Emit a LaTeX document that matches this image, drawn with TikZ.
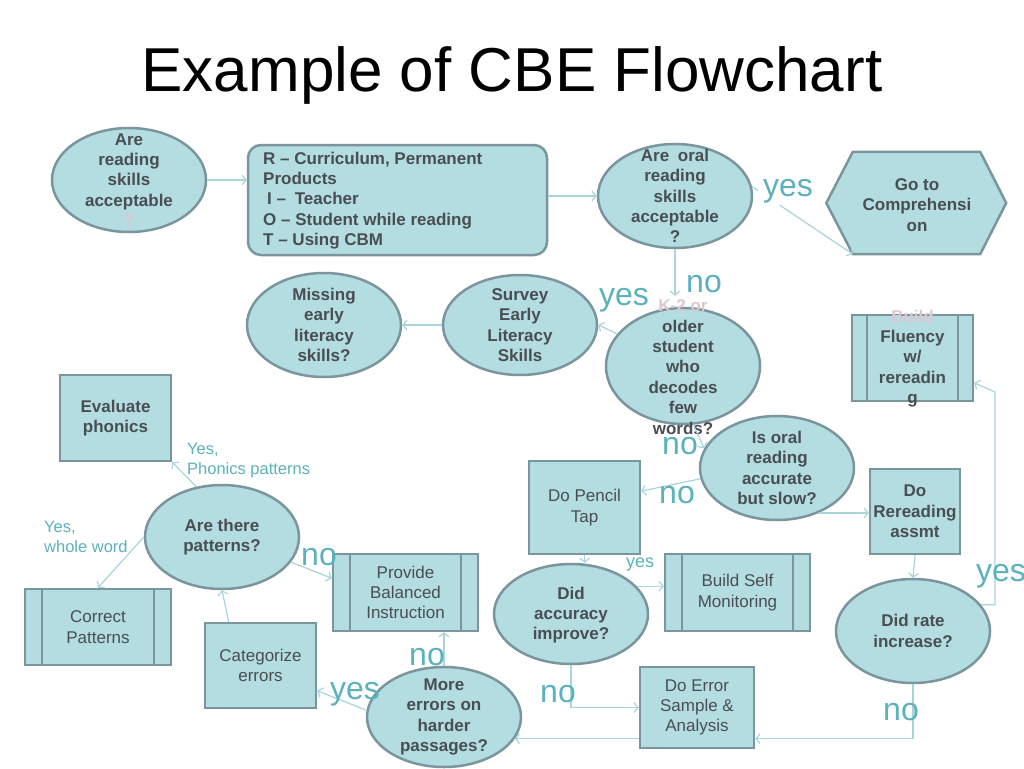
\documentclass[tikz,border=0pt]{standalone}
\usepackage{fontspec}
\setmainfont{Liberation Sans}
\usetikzlibrary{shapes.geometric,arrows.meta}
\definecolor{nodefill}{RGB}{180,221,226}
\definecolor{nodeline}{RGB}{122,150,156}
\definecolor{nodetext}{RGB}{72,78,82}
\definecolor{linkcol}{RGB}{168,212,218}
\definecolor{lbl}{RGB}{92,178,188}
\definecolor{faded}{RGB}{222,198,208}
\tikzset{
  shapebase/.style={draw=nodeline, fill=nodefill, line width=2.5pt, inner sep=0pt},
  ell/.style={shapebase, ellipse, minimum width=154pt, minimum height=104pt},
  boxn/.style={shapebase, rectangle},
  dbox/.style={shapebase, rectangle, path picture={
      \draw[nodeline, line width=2.5pt]
        ([xshift=#1]path picture bounding box.north west) -- ([xshift=#1]path picture bounding box.south west)
        ([xshift=-#1]path picture bounding box.north east) -- ([xshift=-#1]path picture bounding box.south east);}},
  dbox/.default=17pt,
  ntext/.style={text=nodetext, align=center, inner sep=0pt, font=\fontsize{17}{20.4}\selectfont\bfseries},
  rtext/.style={text=nodetext, align=center, inner sep=0pt, font=\fontsize{17}{20.4}\selectfont},
  link/.style={draw=linkcol, line width=1.2pt, -{Straight Barb[length=4pt,width=10pt]}},
  biglbl/.style={text=lbl, font=\fontsize{32}{36}\selectfont, inner sep=0pt},
  smalllbl/.style={text=lbl, font=\fontsize{16.5}{20}\selectfont, inner sep=0pt, align=left},
}
\begin{document}
\begin{tikzpicture}[x=1pt,y=-1pt]
\useasboundingbox[fill=white] (0,0) rectangle (1024,768);

% title
\node[font=\fontsize{62}{70}\selectfont, anchor=base, inner sep=0pt] (title) at (512,91) {Example of CBE Flowchart};

% ---- shapes ----
\node[ell] (A) at (129,180) {};
\node[ntext] (At) at (A) {Are\\reading\\skills\\acceptable\\\textcolor{faded}{?}};

\node[shapebase, rounded corners=13pt, minimum width=299pt, minimum height=110pt] (B) at (397.5,200) {};
\node[ntext, align=left, anchor=west] (Bt) at (263,200.5) {R -- Curriculum, Permanent\\Products\\\hspace*{4pt}I --\hspace*{4pt} Teacher\\O -- Student while reading\\T -- Using CBM};

\node[ell] (C) at (675,196) {};
\node[ntext] (Ct) at (C) {Are\hspace*{4pt} oral\\reading\\skills\\acceptable\\?};

\node[minimum width=127pt, minimum height=102pt, inner sep=0pt] (D) at (916.5,203) {};
\draw[shapebase] (D.north west) -- (D.north east) -- ([xshift=26pt]D.east) -- (D.south east)
   -- (D.south west) -- ([xshift=-26.5pt]D.west) -- cycle;
\node[ntext] (Dt) at (917,205) {Go to\\Comprehensi\\on};

\node[ell, minimum height=116pt] (E) at (683,366) {};
\node[ntext] (Et) at (683,367) {\textcolor{faded}{K-2 or}\\older\\student\\who\\decodes\\few\\words?};

\node[ell, minimum height=100pt] (F) at (520,325) {};
\node[ntext] (Ft) at (F) {Survey\\Early\\Literacy\\Skills};

\node[ell] (G) at (324,325) {};
\node[ntext] (Gt) at (G) {Missing\\early\\literacy\\skills?};

\node[dbox=15pt, minimum width=121pt, minimum height=86pt] (H) at (912.5,358) {};
\node[ntext] (Ht) at (912.5,358.5) {\textcolor{faded}{Build}\\Fluency\\w/\\rereadin\\g};

\node[ell] (I) at (777,468) {};
\node[ntext] (It) at (I) {Is oral\\reading\\accurate\\but slow?};

\node[boxn, minimum width=111pt, minimum height=93pt, rtext] (J) at (584.5,507.5) {Do Pencil\\Tap};

\node[ell, minimum height=100pt] (K) at (571,614) {};
\node[ntext] (Kt) at (571,615) {Did\\accuracy\\improve?};

\node[dbox, minimum width=145pt, minimum height=77pt, rtext] (L) at (737.5,592.5) {Build Self\\Monitoring};

\node[boxn, minimum width=90pt, minimum height=85pt, ntext] (M) at (915,511.5) {Do\\Rereading\\assmt};

\node[ell] (N) at (913,631) {};
\node[ntext] (Nt) at (N) {Did rate\\increase?};

\node[boxn, minimum width=114pt, minimum height=81pt, rtext] (O) at (697,707.5) {Do Error\\Sample \&\\Analysis};

\node[ell, minimum height=100pt] (P) at (444,717) {};
\node[ntext] (Pt) at (P) {More\\errors on\\harder\\passages?};

\node[dbox, minimum width=145pt, minimum height=77pt, rtext] (Q) at (405.5,592.5) {Provide\\Balanced\\Instruction};

\node[boxn, minimum width=111pt, minimum height=85pt, rtext] (R) at (260.5,665.5) {Categorize\\errors};

\node[ell] (S) at (222,537) {};
\node[ntext] (St) at (S) {Are there\\patterns?};

\node[boxn, minimum width=111pt, minimum height=86pt, ntext] (T) at (115.5,418) {Evaluate\\phonics};

\node[dbox, minimum width=146pt, minimum height=76pt, rtext] (U) at (98,627) {Correct\\Patterns};

% ---- connectors ----
\draw[link] (A.east) -- (A.east -| B.west);
\draw[link] (C.west -| B.east) -- (C.west);
\draw[link] (C.7) -- (D.south west);
\draw[link, shorten >=11pt] (C.south) -- (C.south |- E.north);
\draw[link] (E.154) -- (F.east);
\draw[link] (F.west) -- (G.east);
\draw[link] (E.-80) -- (I.165);
\draw[link] (I.188) -- (J.16);
\draw[link] (J.south) -- (J.south |- K.north);
\draw[link] (K.23) -- (K.23 -| L.west);
\draw[link] (K.south) |- (O.west);
\draw[link] (I.-47) -- (I.-47 -| M.west);
\draw[link] (M.south) -- (N.north);
\coordinate (nr) at (995,392);
\draw[link] (N.21) -| (nr) -- (H.-22);
\draw[link] (N.south) |- (O.east |- P.-17);
\draw[link] (P.-17 -| O.west) -- (P.-17);
\draw[link] (P.north) -- (P.north |- Q.south);
\draw[link] (P.175) -- (R.-24);
\draw[link] (R.126) -- (S.south);
\draw[link] (S.117) -- (T.south east);
\draw[link] (S.west) -- (U.north);
\draw[link] (S.-20) -- (Q.169);

% ---- labels ----
\node[biglbl, fill=white, inner xsep=5pt, inner ysep=2pt] (l1) at (788,191) {yes};
\node[biglbl] (l2) at (704,284) {no};
\node[biglbl] (l3) at (624,300) {yes};
\node[biglbl] (l4) at (680,446) {no};
\node[biglbl] (l5) at (677,495) {no};
\node[text=lbl, font=\fontsize{18}{20}\selectfont, inner sep=0pt] (l6) at (640,565) {yes};
\node[biglbl] (l7) at (1001,576) {yes};
\node[biglbl] (l8) at (901,712) {no};
\node[biglbl] (l9) at (558,694) {no};
\node[biglbl] (l10) at (427,657) {no};
\node[biglbl] (l11) at (355,694) {yes};
\node[biglbl] (l12) at (319,557) {no};
\node[smalllbl, anchor=north west] (l13) at (187,443) {Yes,\\Phonics patterns};
\node[smalllbl, anchor=north west] (l14) at (44,521) {Yes,\\whole word};
\end{tikzpicture}
\end{document}
